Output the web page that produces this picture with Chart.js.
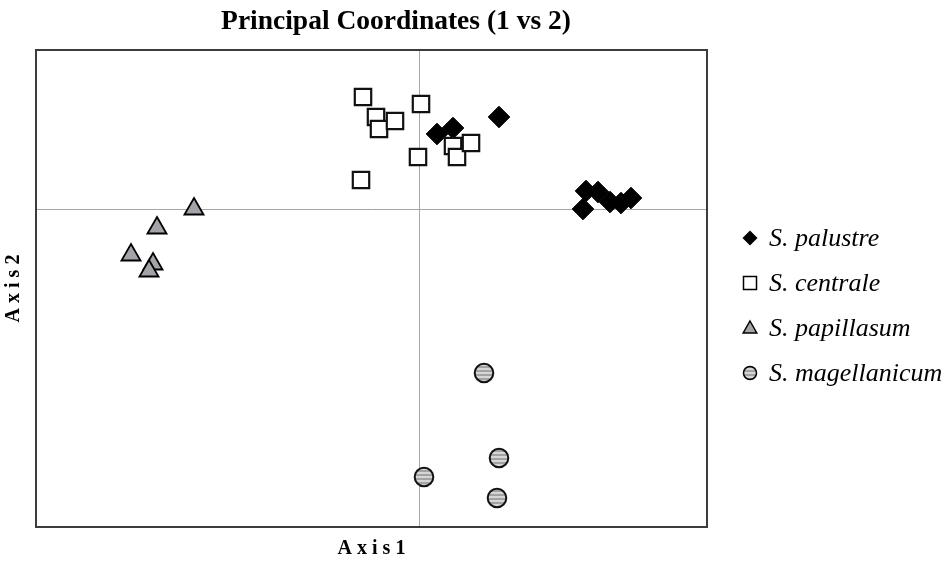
<!DOCTYPE html>
<html>
<head>
<meta charset="utf-8">
<title>Principal Coordinates (1 vs 2)</title>
<script src="https://cdn.jsdelivr.net/npm/chart.js@4.4.1/dist/chart.umd.min.js"></script>
<style>
  html, body { margin: 0; padding: 0; background: #fff; }
  #wrap { position: relative; width: 952px; height: 562px; }
</style>
</head>
<body>
<div id="wrap"><canvas id="pcoa" width="952" height="562"></canvas></div>
<script>
// Text
const chartTitle = "Principal Coordinates (1 vs 2)";
const axisTitleX = "A x i s 1";
const axisTitleY = "A x i s 2";
const species = ["S. palustre", "S. centrale", "S. papillasum", "S. magellanicum"];

// Scores on axis 1 / axis 2
const palustreX = [0.18, 0.34, 0.80, 1.64, 1.67, 1.79, 1.91, 2.02, 2.12];
const palustreY = [0.75, 0.81, 0.92, 0.00, 0.18, 0.17, 0.07, 0.06, 0.11];

const centraleX = [-0.56, -0.43, -0.40, -0.24, 0.02, -0.01, 0.34, 0.38, 0.52, -0.58];
const centraleY = [1.12, 0.92, 0.80, 0.88, 1.05, 0.52, 0.63, 0.52, 0.66, 0.29];

const papillasumX = [-2.25, -2.62, -2.88, -2.66, -2.70];
const papillasumY = [0.00, -0.19, -0.46, -0.55, -0.62];

const magellanicumX = [0.65, 0.80, 0.05, 0.78];
const magellanicumY = [-1.64, -2.49, -2.68, -2.89];

// Axis ranges
const axis1Range = [-3.83, 2.88];
const axis2Range = [-3.18, 1.59];

const toPoints = (xs, ys) => xs.map((x, i) => ({ x: x, y: ys[i] }));

// Striped grey fill used by the circles
function stripePattern() {
  const c = document.createElement("canvas");
  c.width = 4;
  c.height = 4;
  const g = c.getContext("2d");
  g.fillStyle = "#d6d6d6";
  g.fillRect(0, 0, 4, 2);
  g.fillStyle = "#a2a2a2";
  g.fillRect(0, 2, 4, 2);
  return g.createPattern(c, "repeat");
}

document.addEventListener("DOMContentLoaded", () => {
  const ctx = document.getElementById("pcoa").getContext("2d");
  const stripes = stripePattern();
  const triGrey = "#a3a4a8";

  // Frame, title and legend
  const decorations = {
    id: "decorations",
    afterDraw(chart) {
      const c = chart.ctx;
      const a = chart.chartArea;
      c.save();
      c.strokeStyle = "#3c3c3c";
      c.lineWidth = 2;
      c.strokeRect(a.left, a.top, a.right - a.left, a.bottom - a.top);

      c.fillStyle = "#000";
      c.font = "bold 27.5px 'Liberation Serif', 'Times New Roman', serif";
      c.textAlign = "center";
      c.textBaseline = "alphabetic";
      c.fillText(chartTitle, 396, 29);

      // legend
      const rows = [238, 283, 328, 373];
      const mx = 750;
      c.font = "italic 26px 'Liberation Serif', 'Times New Roman', serif";
      c.textAlign = "left";
      c.textBaseline = "middle";
      rows.forEach((y, i) => {
        c.beginPath();
        c.lineWidth = 1.5;
        c.strokeStyle = "#000";
        if (i === 0) {
          c.moveTo(mx, y - 7.5); c.lineTo(mx + 7.5, y); c.lineTo(mx, y + 7.5); c.lineTo(mx - 7.5, y);
          c.closePath();
          c.fillStyle = "#000";
          c.fill();
        } else if (i === 1) {
          c.rect(mx - 6.5, y - 6.5, 13, 13);
          c.fillStyle = "#fff";
          c.fill();
          c.stroke();
        } else if (i === 2) {
          c.moveTo(mx, y - 7); c.lineTo(mx + 6.8, y + 5); c.lineTo(mx - 6.8, y + 5);
          c.closePath();
          c.fillStyle = triGrey;
          c.fill();
          c.stroke();
        } else {
          c.arc(mx, y, 6.5, 0, Math.PI * 2);
          c.fillStyle = stripes;
          c.fill();
          c.stroke();
        }
        c.fillStyle = "#000";
        c.fillText(species[i], 769, y + 1);
      });
      c.restore();
    }
  };

  const zeroLine = (context) => (context.tick && context.tick.value === 0 ? "#a6a6a6" : "rgba(0,0,0,0)");

  new Chart(ctx, {
    type: "scatter",
    data: {
      datasets: [
        {
          label: species[0],
          data: toPoints(palustreX, palustreY),
          pointStyle: "rectRot",
          pointRadius: 10.8,
          backgroundColor: "#000",
          borderColor: "#000",
          borderWidth: 1,
          order: 2
        },
        {
          label: species[1],
          data: toPoints(centraleX, centraleY),
          pointStyle: "rect",
          pointRadius: 11.6,
          backgroundColor: "#fff",
          borderColor: "#111",
          borderWidth: 2.2,
          order: 1
        },
        {
          label: species[2],
          data: toPoints(papillasumX, papillasumY),
          pointStyle: "triangle",
          pointRadius: 11,
          backgroundColor: triGrey,
          borderColor: "#000",
          borderWidth: 1.8,
          order: 3
        },
        {
          label: species[3],
          data: toPoints(magellanicumX, magellanicumY),
          pointStyle: "circle",
          pointRadius: 9.3,
          backgroundColor: stripes,
          borderColor: "#111",
          borderWidth: 2,
          order: 4
        }
      ]
    },
    options: {
      responsive: false,
      animation: false,
      events: [],
      layout: { padding: { top: 50, right: 245, bottom: 0, left: 0 } },
      plugins: {
        legend: { display: false },
        title: { display: false },
        tooltip: { enabled: false }
      },
      scales: {
        x: {
          type: "linear",
          min: axis1Range[0],
          max: axis1Range[1],
          ticks: { display: false, stepSize: 1 },
          border: { display: false },
          grid: { color: zeroLine, drawTicks: false, lineWidth: 1 },
          title: {
            display: true,
            text: axisTitleX,
            color: "#000",
            font: { family: "'Liberation Serif', serif", size: 20, weight: "bold" },
            padding: { top: 10, bottom: 1 }
          }
        },
        y: {
          type: "linear",
          min: axis2Range[0],
          max: axis2Range[1],
          ticks: { display: false, stepSize: 1 },
          border: { display: false },
          grid: { color: zeroLine, drawTicks: false, lineWidth: 1 },
          title: {
            display: true,
            text: axisTitleY,
            color: "#000",
            font: { family: "'Liberation Serif', serif", size: 20, weight: "bold" },
            padding: { top: 2, bottom: 10 }
          }
        }
      }
    },
    plugins: [decorations]
  });
});
</script>
</body>
</html>
